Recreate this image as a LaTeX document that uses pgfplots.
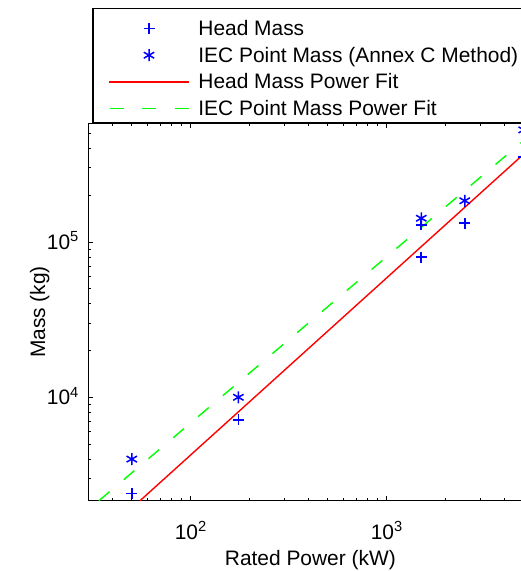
\documentclass[border=0pt]{standalone}
\usepackage{pgfplots}
\pgfplotsset{compat=1.18}
\usepackage{fontspec}
\setmainfont{Liberation Sans}
\definecolor{mblue}{RGB}{0,0,255}
\definecolor{mred}{RGB}{255,0,0}
\definecolor{mgreen}{RGB}{0,255,0}
\begin{document}
\begin{tikzpicture}[font=\fontsize{21}{25}\selectfont]
\begin{axis}[
  at={(88.3bp,70.3bp)}, anchor=south west,
  scale only axis, width=444.1bp, height=377.4bp,
  xmode=log, ymode=log,
  xmin=30, xmax=5535, ymin=2160, ymax=580000,
  xtick={100,1000}, xticklabels={10\textsuperscript{2},10\textsuperscript{3}},
  ytick={10000,100000}, yticklabels={10\textsuperscript{4},10\textsuperscript{5}},
  minor xtick={40,50,60,70,80,90,200,300,400,500,600,700,800,900,2000,3000,4000,5000},
  minor ytick={3000,4000,5000,6000,7000,8000,9000,20000,30000,40000,50000,60000,70000,80000,90000,200000,300000,400000,500000},
  tick align=inside, major tick length=5bp, minor tick length=3bp,
  every tick/.style={black, line width=0.8bp},
  axis line style={line width=1.2bp},
  xticklabel style={anchor=base, inner sep=0pt, yshift=-38.6bp},
  yticklabel style={anchor=base east, inner sep=0pt, xshift=-9.3bp, yshift=-7.5bp},
  xlabel={Rated Power (kW)}, ylabel={Mass (kg)},
  xlabel style={at={([yshift=-65.3bp]axis description cs:0.5,0)}, anchor=base, inner sep=0pt},
  ylabel style={at={([xshift=-43.3bp]axis description cs:0,0.5)}, anchor=base, inner sep=0pt},
  clip=false,
  legend style={at={(0.009,1)}, anchor=south west, draw=black, line width=1.2bp, fill=white,
    inner xsep=15.7bp, inner ysep=3.6bp, row sep=0pt, column sep=9bp,
    nodes={inner sep=0pt, text height=23.2bp, text depth=3.5bp},
    cells={anchor=base west}},
]
\addplot[mblue, only marks, mark=+, mark size=5.5bp, line width=1.8bp,
  legend image code/.code={\path (0bp,0bp) (79bp,0bp); \draw[mblue, line width=1.8bp] plot[mark=+, mark size=5.5bp] coordinates {(39.5bp,7bp)};}]
  coordinates {(50,2400) (175,7150) (1500,79600) (1500,129000) (2500,132000) (5000,354000)};
\addlegendentry{Head Mass}
\addplot[mblue, only marks, mark=asterisk, mark size=6bp, line width=1.5bp,
  legend image code/.code={\path (0bp,0bp) (79bp,0bp); \draw[mblue, line width=1.5bp] plot[mark=asterisk, mark size=6bp] coordinates {(39.5bp,7bp)};}]
  coordinates {(50,4000) (175,10000) (1500,142000) (2500,184000) (5000,526000)};
\addlegendentry{IEC Point Mass (Annex C Method)}
\addplot[mred, line width=1.4bp,
  legend image code/.code={\path (0bp,0bp) (79bp,0bp); \fill[mred] (0bp,6.4bp) rectangle (79bp,7.6bp);}]
  coordinates {(55.1,2160) (5535,413000)};
\addlegendentry{Head Mass Power Fit}
\addplot[mgreen, line width=1.4bp, dash pattern=on 14bp off 18.5bp,
  legend image code/.code={\path (0bp,0bp) (79bp,0bp); \draw[mgreen, line width=1.6bp, dash pattern=on 14bp off 18.5bp] (0bp,7bp) -- (79bp,7bp);}]
  coordinates {(34.0,2160) (5535,501000)};
\addlegendentry{IEC Point Mass Power Fit}
\end{axis}
\pgfresetboundingbox
\useasboundingbox (0,0) rectangle (521bp,571bp);
\end{tikzpicture}
\end{document}
